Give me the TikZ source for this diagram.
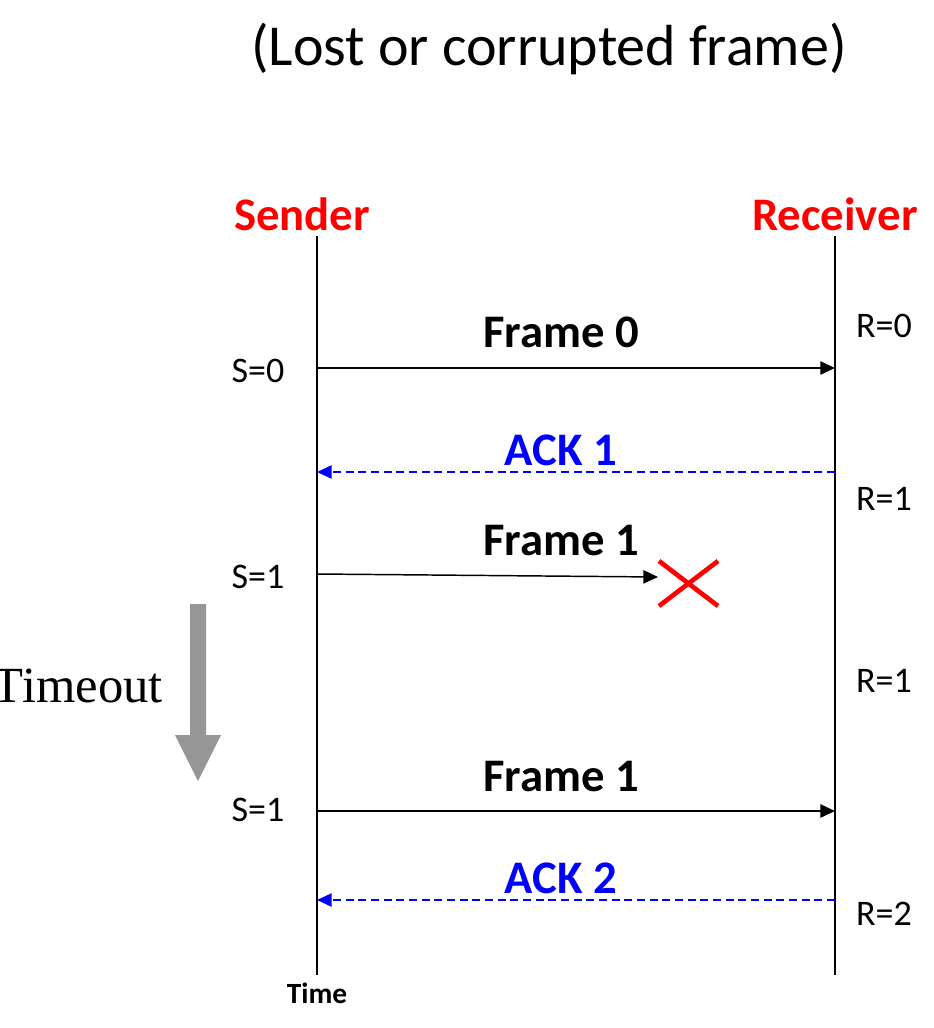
\documentclass[tikz,border=0pt]{standalone}
\usepackage{fontspec}
\setmainfont{Carlito}
\newfontfamily\serifTO{Liberation Serif}
\usetikzlibrary{arrows.meta}
\definecolor{tgray}{RGB}{150,150,150}
\tikzset{
  lifeline/.style={line width=1.3pt, black},
  msg/.style={line width=1.1pt, black, -{Triangle[length=11pt,width=10pt]}},
  ackmsg/.style={line width=1.1pt, blue, dash pattern=on 6pt off 3.5pt, -{Triangle[length=11pt,width=10pt]}},
  role/.style={font=\fontsize{35}{40}\selectfont\bfseries, text=red, inner sep=0pt, anchor=base},
  lbl/.style={font=\fontsize{35}{40}\selectfont\bfseries, inner sep=0pt, anchor=base},
  acklbl/.style={lbl, text=blue},
  state/.style={font=\fontsize{27}{32}\selectfont, inner sep=0pt, anchor=base},
}
\begin{document}
\begin{tikzpicture}[x=0.75pt,y=-0.75pt]
\useasboundingbox (0,0) rectangle (934,1028);
% title
\node[font=\fontsize{43.5}{50}\selectfont, inner sep=0pt, anchor=base] (title) at (549,65) {(Lost or corrupted frame)};
% roles
\node[role] (sender) at (302,230) {Sender};
\node[role] (receiver) at (835,230) {Receiver};
% lifelines
\coordinate (s0) at (317,236);
\coordinate (s1) at (317,975);
\coordinate (r0) at (835,236);
\coordinate (r1) at (835,975);
\draw[lifeline] (s0) -- (s1);
\draw[lifeline] (r0) -- (r1);
% Frame 0
\coordinate (f0a) at (317,368);
\coordinate (f0b) at (835,368);
\draw[msg] (f0a) -- (f0b);
\node[lbl] (f0l) at (561,347) {Frame 0};
\node[state] (sS0) at (258,382) {S=0};
\node[state] (rR0) at (884,337) {R=0};
% ACK 1
\coordinate (a1a) at (835,472);
\coordinate (a1b) at (317,472);
\draw[ackmsg] (a1a) -- (a1b);
\node[acklbl] (a1l) at (561,465) {ACK 1};
\node[state] (rR1) at (884,510) {R=1};
% Frame 1 lost
\coordinate (f1a) at (317,574);
\coordinate (f1b) at (658,577);
\draw[msg] (f1a) -- (f1b);
\node[lbl] (f1l) at (561,555) {Frame 1};
\node[state] (sS1) at (258,588) {S=1};
% red X
\coordinate (x1) at (659,561);
\coordinate (x2) at (718,606);
\coordinate (x3) at (659,606);
\coordinate (x4) at (718,561);
\draw[red, line width=3.5pt] (x1) -- (x2);
\draw[red, line width=3.5pt] (x3) -- (x4);
% timeout
\node[font=\serifTO\fontsize{38}{44}\selectfont, inner sep=0pt, anchor=base east] (tout) at (163,702) {Timeout};
\fill[tgray] (190,604) -- (206,604) -- (206,735) -- (221,735) -- (198,781) -- (175,735) -- (190,735) -- cycle;
\node[state] (rR1b) at (884,692) {R=1};
% Frame 1 resend
\coordinate (f2a) at (317,811);
\coordinate (f2b) at (835,811);
\draw[msg] (f2a) -- (f2b);
\node[lbl] (f2l) at (561,791) {Frame 1};
\node[state] (sS1b) at (258,821) {S=1};
% ACK 2
\coordinate (a2a) at (835,900);
\coordinate (a2b) at (317,900);
\draw[ackmsg] (a2a) -- (a2b);
\node[acklbl] (a2l) at (561,893) {ACK 2};
\node[state] (rR2) at (884,925) {R=2};
% time
\node[font=\fontsize{22}{26}\selectfont\bfseries, inner sep=0pt, anchor=base] (time) at (317,1003) {Time};
\end{tikzpicture}
\end{document}
